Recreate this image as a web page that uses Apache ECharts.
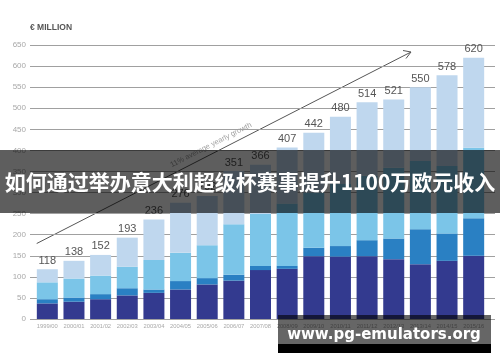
<!DOCTYPE html>
<html><head><meta charset="utf-8">
<script src="https://cdn.jsdelivr.net/npm/echarts@6/dist/echarts.min.js"></script>
<style>html,body{margin:0;padding:0;background:#fff}#c{width:500px;height:362px}</style>
</head><body><div id="c"></div>
<script>
var categories = ['1999/00','2000/01','2001/02','2002/03','2003/04','2004/05','2005/06','2006/07','2007/08','2008/09','2009/10','2010/11','2011/12','2012/13','2013/14','2014/15','2015/16'];
var totals   = [118,138,152,193,236,276,292,351,366,407,442,480,514,521,550,578,620];
var seriesA  = [37,41,47,56,62,70,82,91,116,119,149,148,149,142,130,138,150];
var seriesB  = [10,10,12,17,8,20,15,14,10,7,20,25,38,49,83,65,89];
var seriesC  = [40,45,44,51,70,67,78,120,123,148,131,147,153,168,162,160,167];
var seriesD  = [31,42,49,69,96,119,117,126,117,133,142,160,174,162,175,215,214];
var yTicks   = [0,50,100,150,200,250,300,350,400,450,500,550,600,650];

var sans = "'Liberation Sans',Arial,sans-serif";
var chart = echarts.init(document.getElementById('c'), null, {renderer:'canvas'});
function bar(name, data, color, withLabel){
  var s = {name:name, type:'bar', stack:'t', xAxisIndex:1, yAxisIndex:1, data:data, barWidth:21,
    itemStyle:{color:color}, silent:true};
  if (withLabel) s.label = {show:true, position:'top', distance:3, color:'#555', fontSize:11, fontFamily:sans,
    formatter:function(p){return totals[p.dataIndex];}};
  return s;
}
chart.setOption({
  animation:false,
  grid:[{left:30,right:5,top:45,bottom:43},{left:34,right:13,top:45,bottom:43}],
  xAxis:[
    {gridIndex:0,type:'value',min:0,max:1,show:false},
    {gridIndex:1,type:'category',data:categories,axisLine:{show:false},axisTick:{show:false},
     axisLabel:{color:'#a8a8a8',fontSize:5.8,margin:4,fontFamily:sans,interval:0}}
  ],
  yAxis:[
    {gridIndex:0,type:'value',min:0,max:650,interval:50,
     axisLine:{show:false},axisTick:{show:false},
     splitLine:{lineStyle:{color:'#a0a0a0',width:1.2}},
     axisLabel:{color:'#a8a8a8',fontSize:8,margin:4,fontFamily:sans,
       formatter:function(v){return yTicks.indexOf(v)>=0?String(v):'';}}},
    {gridIndex:1,type:'value',min:0,max:650,interval:50,show:false}
  ],
  series:[
    bar('A', seriesA, '#333a8f', false),
    bar('B', seriesB, '#2a80c3', false),
    bar('C', seriesC, '#7bc5e8', false),
    bar('D', seriesD, '#bfd7ee', true)
  ],
  graphic:[
    {type:'text',left:30,top:23,style:{text:'€ MILLION',fill:'#555',font:"bold 8.5px "+sans}},
    {type:'line',shape:{x1:36.7,y1:243.5,x2:411,y2:52},style:{stroke:'#555',lineWidth:1}},
    {type:'polyline',shape:{points:[[403,50.5],[411,52],[406,58.5]]},style:{stroke:'#555',lineWidth:1,fill:null}},
    {type:'text',x:211,y:145,rotation:27*Math.PI/180,
     style:{text:'11% average yearly growth',fill:'#a0a0a0',font:"7.5px "+sans,textAlign:'center',textVerticalAlign:'middle'}},
    {type:'rect',shape:{x:0,y:150,width:500,height:63},style:{fill:'rgba(0,0,0,0.63)'},z:100},
    {type:'text',x:250,y:182,z:101,
     style:{text:'如何通过举办意大利超级杯赛事提升1100万欧元收入',fill:'#fff',
       font:"bold 21px 'Noto Sans CJK SC','Noto Sans',sans-serif",textAlign:'center',textVerticalAlign:'middle'}},
    {type:'rect',shape:{x:278,y:315,width:213,height:29},style:{fill:'rgba(0,0,0,0.6)'},z:100},
    {type:'rect',shape:{x:278,y:344,width:213,height:9},style:{fill:'#000'},z:100},
    {type:'text',x:384,y:335,z:101,
     style:{text:'www.pg-emulators.org',fill:'#fff',font:"bold 15px 'DejaVu Sans',sans-serif",textAlign:'center',textVerticalAlign:'middle'}}
  ]
});
</script></body></html>
